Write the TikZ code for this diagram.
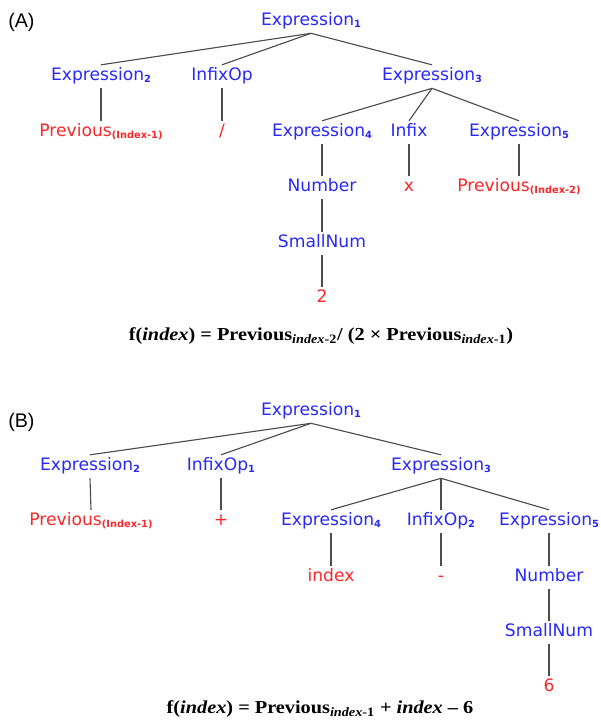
\documentclass[tikz,border=0pt]{standalone}
\usepackage{fontspec}
\newfontfamily\treefont{DejaVu Sans}
\newfontfamily\formfont[FakeStretch=1.11]{Liberation Serif}
\newfontfamily\panelfont{Liberation Sans}
\definecolor{symblue}{RGB}{40,40,250}
\definecolor{termred}{RGB}{250,40,40}
\newcommand{\lsub}[1]{\raisebox{-1.5pt}{\fontsize{7}{7}\selectfont\bfseries #1}}
\begin{document}
\begin{tikzpicture}[x=0.025cm,y=-0.025cm,
  sym/.style={text=symblue,font=\treefont\fontsize{12.2}{14}\selectfont,anchor=base,
    inner ysep=0pt,text height=10.6pt,text depth=5.7pt},
  term/.style={sym,text=termred},
  branch/.style={draw=black!70,line width=0.8pt},
  formula/.style={font=\formfont\bfseries\fontsize{13}{15}\selectfont,anchor=base},
  panel/.style={font=\panelfont\fontsize{14}{16}\selectfont,anchor=base west,inner sep=0pt}]

\useasboundingbox (0,0) rectangle (600,724);

\node[panel] (pa) at (8,27) {(A)};
\node[sym] (a1) at (311,25) {Expression\lsub{1}};
\node[sym] (a2) at (101,80) {Expression\lsub{2}};
\node[sym] (aop) at (222,80) {InfixOp};
\node[sym] (a3) at (432,80) {Expression\lsub{3}};
\node[term] (aprev1) at (101,136) {Previous\lsub{(Index-1)}};
\node[term] (adiv) at (222,136) {/};
\node[sym] (a4) at (322,136) {Expression\lsub{4}};
\node[sym] (ainf) at (409,136) {Infix};
\node[sym] (a5) at (519,136) {Expression\lsub{5}};
\node[sym] (anum) at (322,191) {Number};
\node[term] (atimes) at (409,191) {x};
\node[term] (aprev2) at (519,191) {Previous\lsub{(Index-2)}};
\node[sym] (asmall) at (322,247) {SmallNum};
\node[term] (atwo) at (322,302) {2};
\node[formula] (fa) at (321,340) {f(\textit{index}) = Previous\textsubscript{\textit{index}-2}/ (2 × Previous\textsubscript{\textit{index}-1})};

\draw[branch] (a1.south) -- (a2.north);
\draw[branch] (a1.south) -- (aop.north);
\draw[branch] (a1.south) -- (a3.north);
\draw[branch] (a2.south) -- (aprev1.north);
\draw[branch] (aop.south) -- (adiv.north);
\draw[branch] (a3.south) -- (a4.north);
\draw[branch] (a3.south) -- (ainf.north);
\draw[branch] (a3.south) -- (a5.north);
\draw[branch] (a4.south) -- (anum.north);
\draw[branch] (ainf.south) -- (atimes.north);
\draw[branch] (a5.south) -- (aprev2.north);
\draw[branch] (anum.south) -- (asmall.north);
\draw[branch] (asmall.south) -- (atwo.north);

\node[panel] (pb) at (8,427) {(B)};
\node[sym] (b1) at (311,415) {Expression\lsub{1}};
\node[sym] (b2) at (90,470) {Expression\lsub{2}};
\node[sym] (bop1) at (221,470) {InfixOp\lsub{1}};
\node[sym] (b3) at (441,470) {Expression\lsub{3}};
\node[term] (bprev1) at (91,525) {Previous\lsub{(Index-1)}};
\node[term] (bplus) at (221,525) {+};
\node[sym] (b4) at (331,525) {Expression\lsub{4}};
\node[sym] (bop2) at (441,525) {InfixOp\lsub{2}};
\node[sym] (b5) at (549,525) {Expression\lsub{5}};
\node[term] (bindex) at (331,581) {index};
\node[term] (bminus) at (441,581) {-};
\node[sym] (bnum) at (549,581) {Number};
\node[sym] (bsmall) at (549,636) {SmallNum};
\node[term] (bsix) at (549,691) {6};
\node[formula] (fb) at (320,713) {f(\textit{index}) = Previous\textsubscript{\textit{index}-1} + \textit{index} – 6};

\draw[branch] (b1.south) -- (b2.north);
\draw[branch] (b1.south) -- (bop1.north);
\draw[branch] (b1.south) -- (b3.north);
\draw[branch] (b2.south) -- (bprev1.north);
\draw[branch] (bop1.south) -- (bplus.north);
\draw[branch] (b3.south) -- (b4.north);
\draw[branch] (b3.south) -- (bop2.north);
\draw[branch] (b3.south) -- (b5.north);
\draw[branch] (b4.south) -- (bindex.north);
\draw[branch] (bop2.south) -- (bminus.north);
\draw[branch] (b5.south) -- (bnum.north);
\draw[branch] (bnum.south) -- (bsmall.north);
\draw[branch] (bsmall.south) -- (bsix.north);

\end{tikzpicture}
\end{document}
